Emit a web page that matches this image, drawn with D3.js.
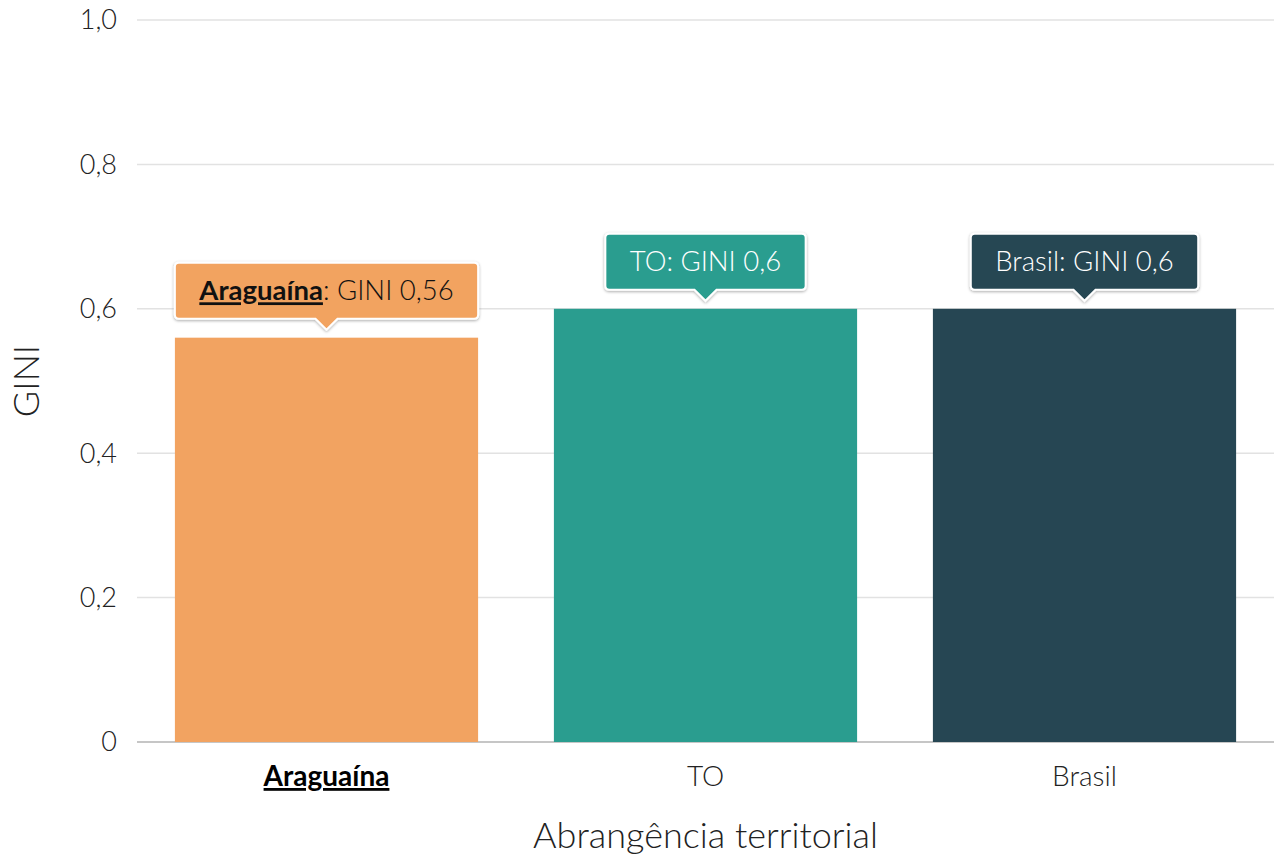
<!DOCTYPE html>
<html>
<head>
<meta charset="utf-8">
<script src="https://cdn.jsdelivr.net/npm/d3@7"></script>
<style>
  body { margin: 0; background: #fff; }
  svg { display: block; font-family: Lato, "Open Sans", sans-serif; }
</style>
</head>
<body>
<svg width="1274" height="859"></svg>
<script>
const categories = ["Araguaína", "TO", "Brasil"];
const values = [0.56, 0.6, 0.6];
const colors = ["#f2a361", "#2a9d8f", "#264653"];
const tooltipText = ["GINI 0,56", "GINI 0,6", "GINI 0,6"];
const yTicks = [0, 0.2, 0.4, 0.6, 0.8, 1.0];

const svg = d3.select("svg");
const width = +svg.attr("width");
const height = +svg.attr("height");
const margin = { top: 20, right: 0, bottom: 117, left: 137 };

const x = d3.scaleBand()
    .domain(categories)
    .range([margin.left, width - margin.right])
    .paddingInner(0.2)
    .paddingOuter(0.1);

const y = d3.scaleLinear()
    .domain([0, 1])
    .range([height - margin.bottom, margin.top]);

const fmt = d => d === 0 ? "0" : d.toFixed(1).replace(".", ",");

// grade horizontal
svg.append("g")
    .selectAll("line")
    .data(yTicks)
    .join("line")
    .attr("x1", margin.left)
    .attr("x2", width - margin.right)
    .attr("y1", d => y(d))
    .attr("y2", d => y(d))
    .attr("stroke", d => d === 0 ? "#c6c6c6" : "#e2e2e2")
    .attr("stroke-width", d => d === 0 ? 2 : 1.5);

// rótulos do eixo y
svg.append("g")
    .selectAll("text")
    .data(yTicks)
    .join("text")
    .attr("x", margin.left - 20)
    .attr("y", d => y(d))
    .attr("dy", "0.35em")
    .attr("text-anchor", "end")
    .attr("font-size", 27)
    .attr("font-weight", 300)
    .attr("fill", "#222")
    .text(fmt);

// barras
svg.append("g")
    .selectAll("rect")
    .data(values)
    .join("rect")
    .attr("x", (d, i) => x(categories[i]))
    .attr("y", d => y(d))
    .attr("width", x.bandwidth())
    .attr("height", d => y(0) - y(d))
    .attr("fill", (d, i) => colors[i]);

// rótulos das categorias
svg.append("g")
    .selectAll("text")
    .data(categories)
    .join("text")
    .attr("x", d => x(d) + x.bandwidth() / 2)
    .attr("y", 786)
    .attr("text-anchor", "middle")
    .attr("font-size", 28)
    .attr("font-weight", (d, i) => i === 0 ? 700 : 300)
    .attr("text-decoration", (d, i) => i === 0 ? "underline" : null)
    .attr("fill", (d, i) => i === 0 ? "#000" : "#222")
    .text(d => d);

// títulos dos eixos
svg.append("text")
    .attr("x", (margin.left + width) / 2)
    .attr("y", 848)
    .attr("text-anchor", "middle")
    .attr("font-size", 36)
    .attr("font-weight", 300)
    .attr("fill", "#222")
    .text("Abrangência territorial");

svg.append("text")
    .attr("transform", `translate(39, ${(margin.top + height - margin.bottom) / 2}) rotate(-90)`)
    .attr("text-anchor", "middle")
    .attr("font-size", 36)
    .attr("font-weight", 300)
    .attr("fill", "#222")
    .text("GINI");

// sombra das caixas
const defs = svg.append("defs");
const filt = defs.append("filter").attr("id", "sombra")
    .attr("x", "-10%").attr("y", "-20%").attr("width", "120%").attr("height", "150%");
filt.append("feDropShadow")
    .attr("dx", 0).attr("dy", 1).attr("stdDeviation", 1.5)
    .attr("flood-color", "#000").attr("flood-opacity", 0.35);

// caixas de rótulo
const tips = svg.append("g")
    .selectAll("g")
    .data(values)
    .join("g")
    .attr("transform", (d, i) => `translate(${x(categories[i]) + x.bandwidth() / 2}, ${y(d) - 8})`);

tips.each(function(d, i) {
    const g = d3.select(this);
    const t = g.append("text")
        .attr("text-anchor", "middle")
        .attr("font-size", 27.5)
        .attr("font-weight", 300)
        .attr("fill", i === 0 ? "#111" : "#fff");
    if (i === 0) {
        t.append("tspan").attr("font-weight", 700).attr("text-decoration", "underline").text(categories[i]);
        t.append("tspan").text(": " + tooltipText[i]);
    } else {
        t.text(categories[i] + ": " + tooltipText[i]);
    }
    const tw = t.node().getComputedTextLength();
    const w = tw + 49, h = 56, r = 4, a = 11;
    const x0 = -w / 2, y0 = -a - h;
    const path = `M${x0 + r},${y0} H${-x0 - r} Q${-x0},${y0} ${-x0},${y0 + r} V${-a - r} Q${-x0},${-a} ${-x0 - r},${-a}` +
        ` H${a} L0,0 L${-a},${-a} H${x0 + r} Q${x0},${-a} ${x0},${-a - r} V${y0 + r} Q${x0},${y0} ${x0 + r},${y0} Z`;
    g.insert("path", "text")
        .attr("d", path)
        .attr("fill", colors[i])
        .attr("stroke", "#fff")
        .attr("stroke-width", 2)
        .attr("filter", "url(#sombra)");
    t.attr("y", y0 + h / 2).attr("dy", "0.35em");
});
</script>
</body>
</html>
